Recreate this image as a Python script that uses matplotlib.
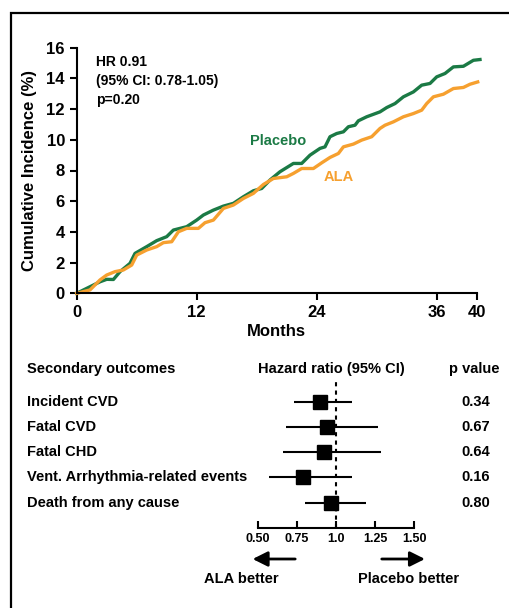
import numpy as np
import matplotlib.pyplot as plt
from matplotlib.patches import Rectangle
from matplotlib.transforms import blended_transform_factory

plt.rcParams['font.family'] = ['Liberation Sans', 'DejaVu Sans']
plt.rcParams['font.weight'] = 'bold'

# cumulative incidence curves (months, %)
placebo_m = [0, 2.33, 3.0, 3.67, 4.33, 5.33, 5.83, 7, 8, 9, 9.67, 11, 12, 12.67, 13.67,
             14.67, 15.67, 16.67, 17.67, 18.5, 19.33, 20.33, 21.67, 22.5, 23.33, 24.33,
             24.83, 25.33, 26, 26.67, 27.17, 27.83, 28.17, 29, 30.33, 31, 31.83, 32.67,
             33.67, 34.5, 35.33, 36, 36.83, 37.67, 38.67, 39.67, 40.33]
placebo_y = [0, 0.75, 0.91, 0.9, 1.41, 1.95, 2.6, 3.04, 3.43, 3.69, 4.12, 4.34, 4.77, 5.1,
             5.42, 5.68, 5.86, 6.29, 6.68, 6.83, 7.38, 7.92, 8.46, 8.46, 9.0, 9.44, 9.54,
             10.2, 10.41, 10.52, 10.85, 10.95, 11.24, 11.5, 11.82, 12.1, 12.36, 12.8,
             13.12, 13.56, 13.67, 14.1, 14.32, 14.75, 14.79, 15.18, 15.23]
ala_m = [0, 1.33, 2.33, 3, 3.83, 4.67, 5.5, 6, 7, 8, 8.67, 9.5, 10.17, 11, 12.17, 12.83,
         13.67, 14.67, 15.67, 16.67, 17.67, 18.67, 19.67, 21, 21.67, 22.5, 23.67, 24.5,
         25.33, 26.17, 26.67, 27.67, 28.5, 29.5, 30.33, 30.83, 31.67, 32.67, 33.67, 34.5,
         35, 35.67, 36.67, 37.67, 38.67, 39.33, 40.1]
ala_y = [0, 0.22, 0.87, 1.19, 1.41, 1.52, 1.84, 2.49, 2.82, 3.04, 3.3, 3.36, 4.01, 4.23,
         4.23, 4.6, 4.77, 5.53, 5.75, 6.18, 6.51, 7.09, 7.48, 7.59, 7.81, 8.13, 8.13, 8.5,
         8.85, 9.11, 9.54, 9.72, 9.98, 10.2, 10.74, 10.95, 11.17, 11.5, 11.71, 11.93,
         12.36, 12.8, 12.97, 13.34, 13.41, 13.62, 13.77]

# secondary outcomes forest plot
outcomes = ['Incident CVD', 'Fatal CVD', 'Fatal CHD',
            'Vent. Arrhythmia-related events', 'Death from any cause']
hr = [0.90, 0.94, 0.92, 0.79, 0.97]
ci_lo = [0.73, 0.68, 0.66, 0.57, 0.80]
ci_hi = [1.10, 1.27, 1.29, 1.10, 1.19]
pvals = ['0.34', '0.67', '0.64', '0.16', '0.80']

green = '#1b7a45'
orange = '#f6a02f'
W, H = 510, 608

fig = plt.figure(figsize=(W / 100, H / 100), dpi=100)

# outer frame
fig.patches.append(Rectangle((11 / W, -0.05), 1.1, (H - 13) / H + 0.05,
                             transform=fig.transFigure, fill=False,
                             edgecolor='black', linewidth=1.6))

ax = fig.add_axes([76.7 / W, (H - 293.3) / H, 400 / W, 245.6 / H])
ax.plot(placebo_m, placebo_y, color=green, lw=2.4, clip_on=False)
ax.plot(ala_m, ala_y, color=orange, lw=2.4, clip_on=False)
ax.set_xlim(0, 40)
ax.set_ylim(0, 16)
ax.set_xticks([0, 12, 24, 36, 40])
ax.set_yticks(range(0, 17, 2))
for s in ['top', 'right']:
    ax.spines[s].set_visible(False)
for s in ['left', 'bottom']:
    ax.spines[s].set_linewidth(1.5)
ax.tick_params(width=1.5, length=5, labelsize=12)
ax.set_xlabel('Months', fontsize=12, fontweight='bold', labelpad=3)
ax.set_ylabel('Cumulative Incidence (%)', fontsize=12, fontweight='bold', labelpad=7)
ax.text(1.9, 15.55, 'HR 0.91\n(95% CI: 0.78-1.05)\np=0.20', fontsize=10,
        va='top', ha='left', linespacing=1.45)
ax.text(17.3, 9.9, 'Placebo', color=green, fontsize=10.5, va='center')
ax.text(24.7, 7.6, 'ALA', color=orange, fontsize=10.5, va='center')

# forest plot
row_px = 25.15
ax2 = fig.add_axes([257.7 / W, (H - 527.7) / H, 156.7 / W, (527.7 - 380) / H])
ax2.set_xlim(0.5, 1.5)
ax2.set_ylim(0, (527.7 - 380) / row_px)
ypos = np.arange(len(outcomes), 0, -1)
ax2.hlines(ypos, ci_lo, ci_hi, color='black', lw=1.5)
ax2.plot(hr, ypos, 's', color='black', markersize=9.5, linestyle='none')
ax2.axvline(1.0, color='black', lw=1.5, ls=(0, (2, 2)))
for s in ['top', 'right', 'left']:
    ax2.spines[s].set_visible(False)
ax2.spines['bottom'].set_linewidth(1.5)
ax2.set_yticks([])
ax2.set_xticks([0.5, 0.75, 1.0, 1.25, 1.5])
ax2.set_xticklabels(['0.50', '0.75', '1.0', '1.25', '1.50'])
ax2.tick_params(axis='x', direction='in', length=5, width=1.5, labelsize=9, pad=4)

tr = blended_transform_factory(fig.transFigure, ax2.transData)
head_y = (527.7 - 369) / row_px
ax2.text(27 / W, head_y, 'Secondary outcomes', transform=tr, fontsize=10.5,
         va='center', ha='left')
ax2.text(331 / W, head_y, 'Hazard ratio (95% CI)', transform=tr, fontsize=10.5,
         va='center', ha='center')
ax2.text(474 / W, head_y, 'p value', transform=tr, fontsize=10.5,
         va='center', ha='center')
for name, p, y in zip(outcomes, pvals, ypos):
    ax2.text(27 / W, y, name, transform=tr, fontsize=10.5, va='center', ha='left')
    ax2.text(490 / W, y, p, transform=tr, fontsize=10.5, va='center', ha='right')

arrow_y = (527.7 - 559) / row_px
label_y = (527.7 - 579) / row_px
aprops = dict(arrowstyle='-|>,head_length=0.9,head_width=0.45', color='black', lw=2)
ax2.annotate('', xy=(0.45, arrow_y), xytext=(0.757, arrow_y),
             arrowprops=aprops, annotation_clip=False)
ax2.annotate('', xy=(1.585, arrow_y), xytext=(1.274, arrow_y),
             arrowprops=aprops, annotation_clip=False)
ax2.text(0.394, label_y, 'ALA better', fontsize=10.5, ha='center', va='center',
         clip_on=False)
ax2.text(1.464, label_y, 'Placebo better', fontsize=10.5, ha='center', va='center',
         clip_on=False)

fig.savefig('out.png', dpi=100)
